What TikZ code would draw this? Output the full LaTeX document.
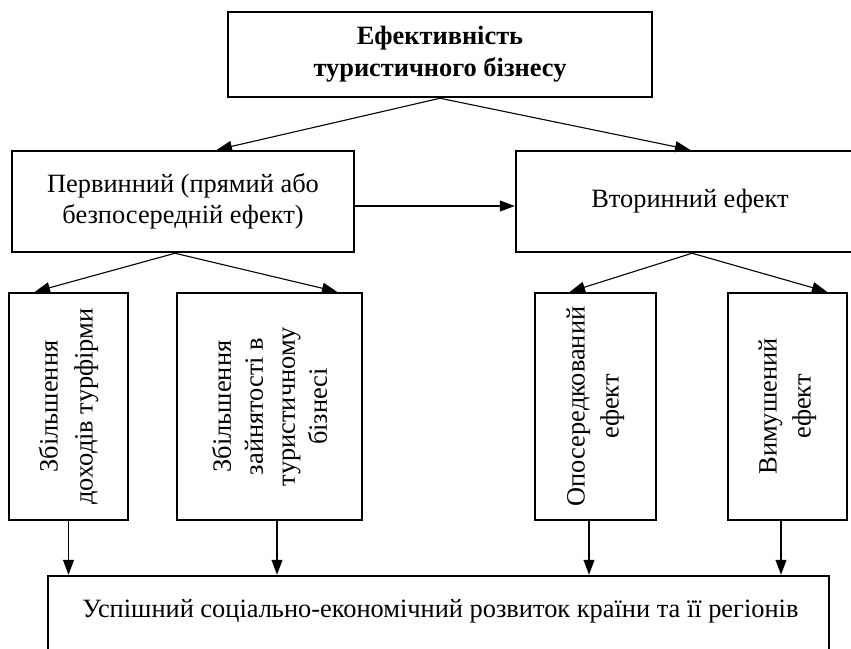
\documentclass[tikz,border=0pt]{standalone}
\usepackage{fontspec}
\setmainfont{Liberation Serif}
\usetikzlibrary{arrows.meta}
\begin{document}
\begin{tikzpicture}[x=1pt,y=-1pt,
  box/.style={draw, line width=2.5pt, inner sep=0pt, align=center, font=\fontsize{26.4}{31}\selectfont},
  txt/.style={inner sep=0pt, font=\fontsize{26.4}{31}\selectfont},
  arr/.style={line width=1.1pt, -{Triangle[length=15pt,width=11pt]}}]
\useasboundingbox (0,0) rectangle (851,648);
\clip (0,0) rectangle (851,648);
\node[box, minimum width=424pt, minimum height=85pt, font=\bfseries\fontsize{26.4}{32}\selectfont] (top) at (440,54.5) {Ефективність\\туристичного бізнесу};
\node[box, minimum width=342pt, minimum height=101pt] (prim) at (183,201.5) {Первинний (прямий або\\безпосередній ефект)};
\node[box, minimum width=348pt, minimum height=101pt] (sec) at (690,201.5) {Вторинний ефект};
\node[box, rotate=90, minimum width=227pt, minimum height=119pt, font=\fontsize{26.4}{35}\selectfont] (v1) at (68.5,406.5) {Збільшення\\доходів турфірми};
\node[box, rotate=90, minimum width=227pt, minimum height=185pt, font=\fontsize{26.4}{32}\selectfont] (v2) at (269.5,406.5) {Збільшення\\зайнятості в\\туристичному\\бізнесі};
\node[box, rotate=90, minimum width=227pt, minimum height=121pt, font=\fontsize{26.4}{34}\selectfont] (v3) at (595.5,406.5) {Опосередкований\\ефект};
\node[box, rotate=90, minimum width=227pt, minimum height=119pt, font=\fontsize{26.4}{34}\selectfont] (v4) at (787.5,406.5) {Вимушений\\ефект};
\node[box, minimum width=781pt, minimum height=89pt] (bot) at (438.5,620.5) {};
\node[txt, anchor=base] (bottxt) at (440.5,617) {Успішний соціально-економічний розвиток країни та її регіонів};
\draw[arr] (top.south) -- ([xshift=34pt]prim.north);
\draw[arr] (top.south) -- (sec.north);
\draw[arr] ([yshift=-4.5pt]prim.east) -- ([yshift=-4.5pt]prim.east -| sec.west);
\draw[arr] ([xshift=-8pt]prim.south) -- ([xshift=-33.5pt]v1.east);
\draw[arr] ([xshift=-8pt]prim.south) -- ([xshift=67.5pt]v2.east);
\draw[arr] ([xshift=2pt]sec.south) -- ([xshift=-25.5pt]v3.east);
\draw[arr] ([xshift=2pt]sec.south) -- ([xshift=39.5pt]v4.east);
\draw[arr] (v1.west) -- (v1.west |- bot.north);
\draw[arr] ([xshift=7.5pt]v2.west) -- ([xshift=7.5pt]v2.west |- bot.north);
\draw[arr] ([xshift=-6.5pt]v3.west) -- ([xshift=-6.5pt]v3.west |- bot.north);
\draw[arr] ([xshift=-6.5pt]v4.west) -- ([xshift=-6.5pt]v4.west |- bot.north);
\end{tikzpicture}
\end{document}
